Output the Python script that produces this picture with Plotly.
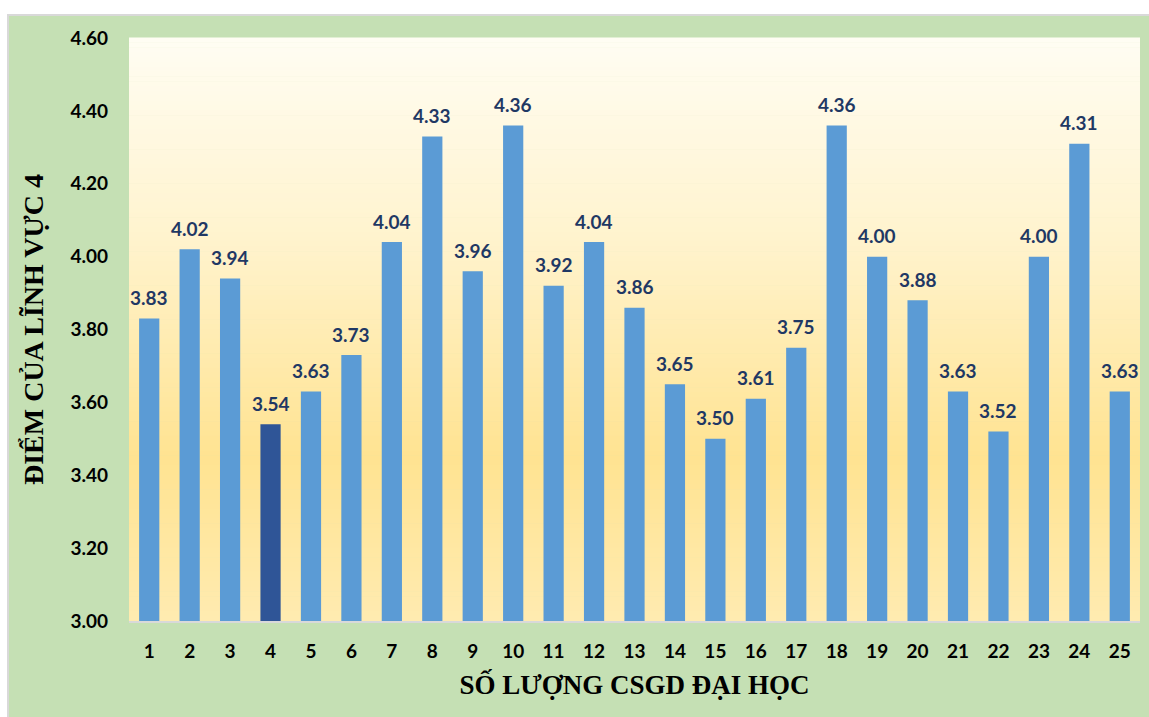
import plotly.graph_objects as go

categories = [str(i) for i in range(1, 26)]
scores = [3.83, 4.02, 3.94, 3.54, 3.63, 3.73, 4.04, 4.33, 3.96, 4.36,
          3.92, 4.04, 3.86, 3.65, 3.50, 3.61, 3.75, 4.36, 4.00, 3.88,
          3.63, 3.52, 4.00, 4.31, 3.63]
highlight_index = 3
y_ticks = [3.0, 3.2, 3.4, 3.6, 3.8, 4.0, 4.2, 4.4, 4.6]

BAR = "#5B9BD5"
BAR_HI = "#2F5597"
LABEL = "#1F3864"

xpos = list(range(1, len(scores) + 1))
colors = [BAR_HI if i == highlight_index else BAR for i in range(len(scores))]

fig = go.Figure()
fig.add_trace(go.Bar(
    x=xpos, y=scores, width=0.5,
    marker=dict(color=colors, line=dict(width=0)),
    hoverinfo="x+y",
))

for xp, v in zip(xpos, scores):
    fig.add_annotation(x=xp, y=v, text=f"{v:.2f}", showarrow=False,
                       yanchor="middle", yshift=21,
                       font=dict(family="Lato", size=19, color=LABEL, weight="bold"))

W, H = 1149, 717
L, R, T, B = 129, 9, 38, 96
pw, ph = W - L - R, H - T - B

def px_x(p):
    return (p - L) / pw

def px_y(p):
    return (H - B - p) / ph

shapes = []
# green chart area with light grey border
shapes.append(dict(type="rect", xref="paper", yref="paper",
                   x0=px_x(8), x1=px_x(1152), y0=px_y(720), y1=px_y(15),
                   fillcolor="#C5E0B4", line=dict(color="#D9D9D9", width=2),
                   layer="below"))

# gradient plot background
stops = [(0.0, (255, 253, 243)), (0.35, (255, 243, 205)),
         (0.72, (255, 227, 145)), (1.0, (255, 235, 176))]

def col(t):
    for (t0, c0), (t1, c1) in zip(stops[:-1], stops[1:]):
        if t <= t1:
            f = (t - t0) / (t1 - t0)
            return "rgb(%d,%d,%d)" % tuple(round(a + (b - a) * f) for a, b in zip(c0, c1))
    return "rgb(%d,%d,%d)" % stops[-1][1]

N = 120
for k in range(N):
    t = (k + 0.5) / N
    y1 = 1 - k / N
    y0 = 1 - (k + 1) / N
    shapes.append(dict(type="rect", xref="paper", yref="paper",
                       x0=0, x1=1, y0=y0, y1=y1 + 0.001,
                       fillcolor=col(t), line=dict(width=0), layer="below"))

fig.update_layout(
    width=W, height=H,
    margin=dict(l=L, r=R, t=T, b=B),
    paper_bgcolor="white",
    plot_bgcolor="rgba(0,0,0,0)",
    shapes=shapes,
    showlegend=False,
    font=dict(family="Lato", color="black"),
)
fig.update_xaxes(
    range=[0.5, len(scores) + 0.5], tickvals=xpos, ticktext=categories,
    showgrid=False, zeroline=False,
    showline=True, linecolor="#D9D9D9", linewidth=2,
    ticks="", ticklabelstandoff=12,
    tickfont=dict(family="Lato", size=19, color="black", weight="bold"),
    title=dict(text="SỐ LƯỢNG CSGD ĐẠI HỌC", standoff=14,
               font=dict(family="Liberation Serif", size=27, color="black", weight="bold")),
)
fig.update_yaxes(
    range=[3.0, 4.6], tickvals=y_ticks, ticktext=[f"{v:.2f}" for v in y_ticks],
    showgrid=False, zeroline=False, showline=False,
    ticks="", ticklabelstandoff=20,
    tickfont=dict(family="Lato", size=19, color="black", weight="bold"),
    title=dict(text="ĐIỂM CỦA LĨNH VỰC 4", standoff=18,
               font=dict(family="Liberation Serif", size=28, color="black", weight="bold")),
)

fig.write_html("out.html")
